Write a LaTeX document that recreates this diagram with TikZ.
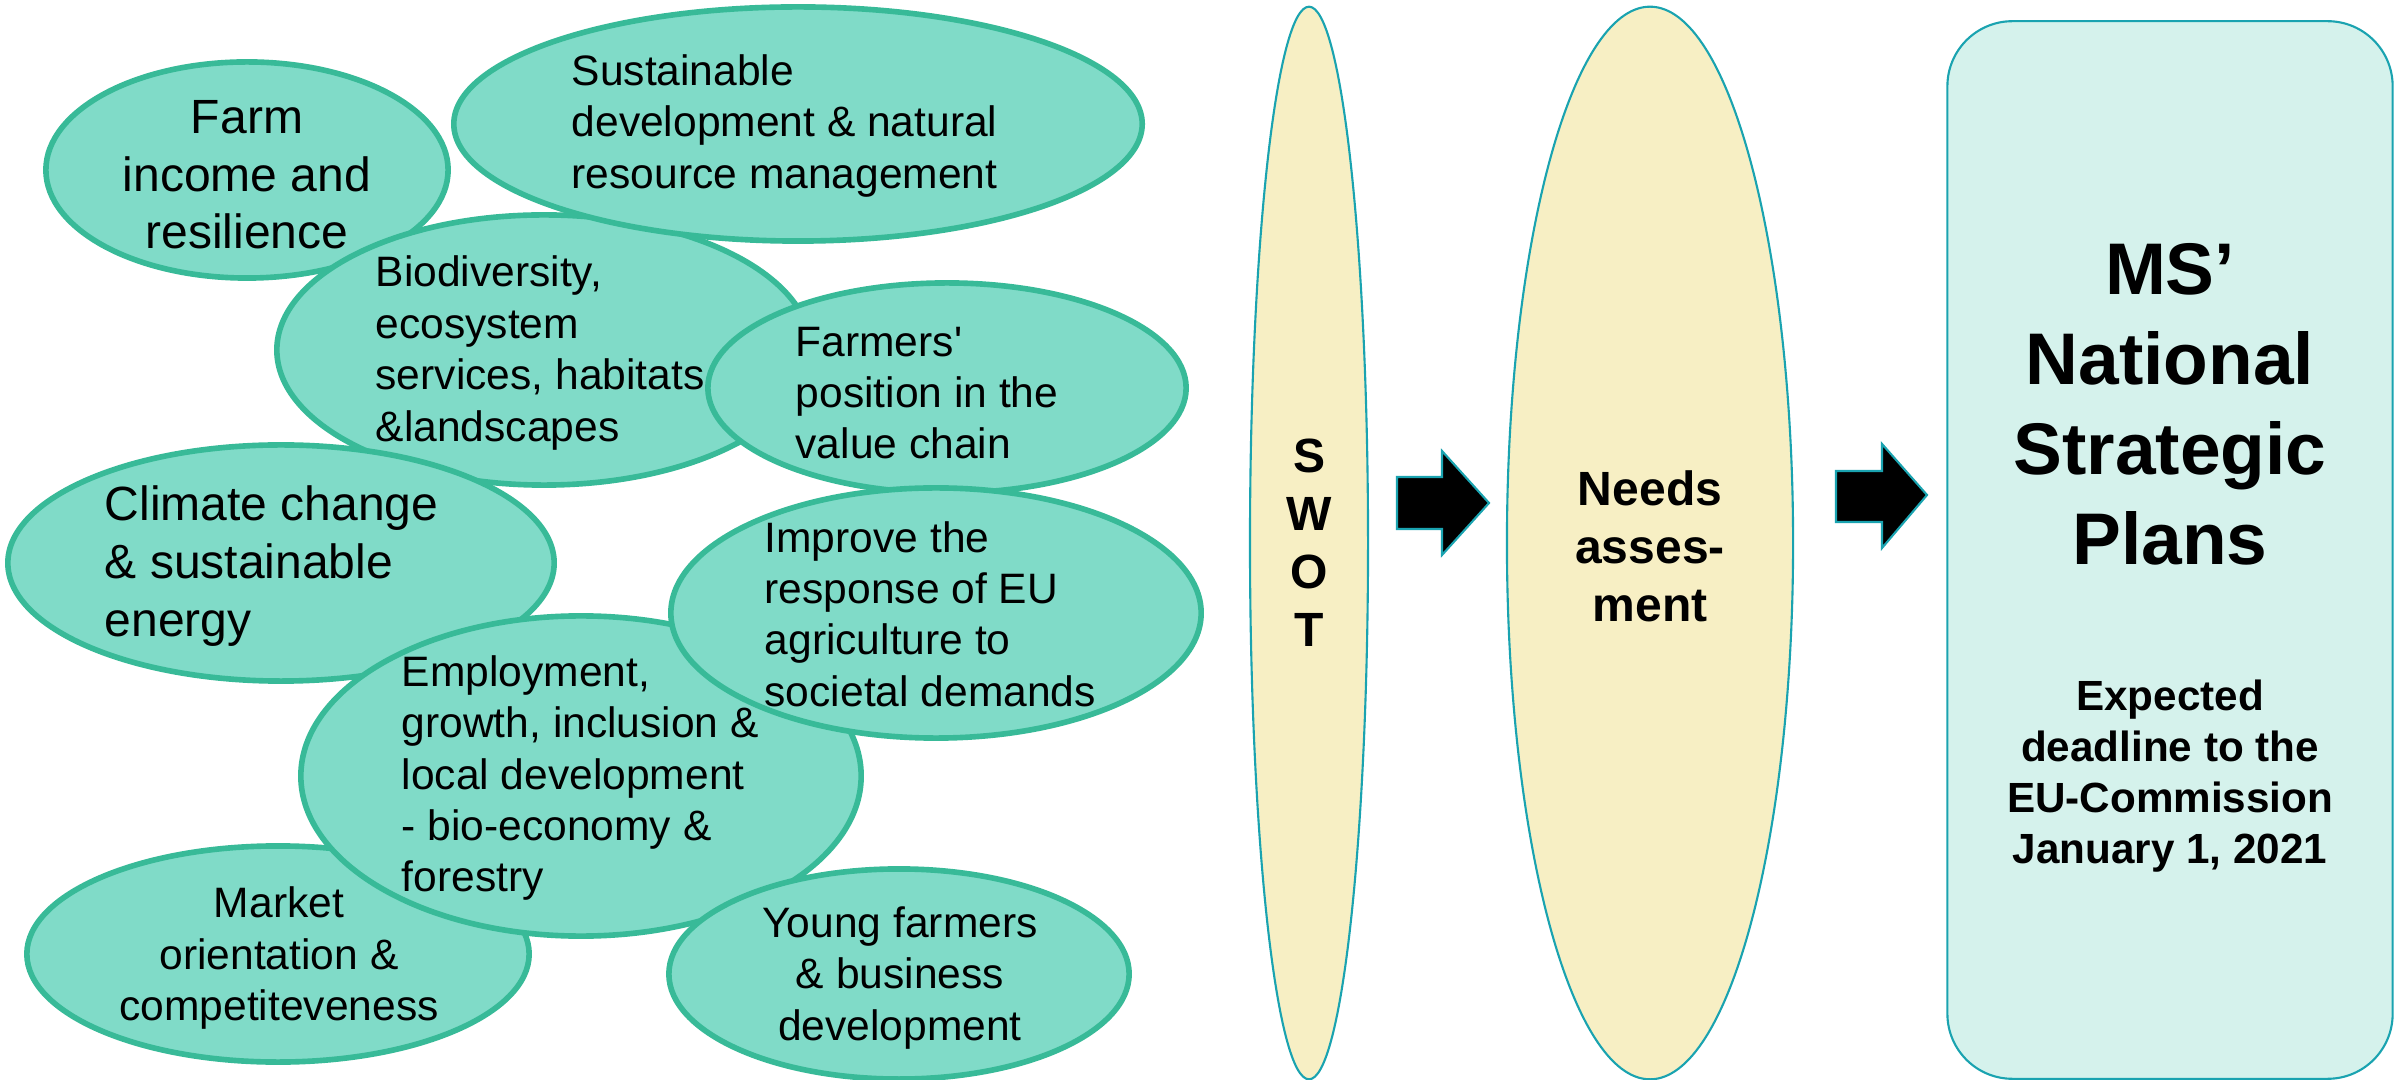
\documentclass[tikz,border=0pt]{standalone}
\usepackage{fontspec}
\setmainfont{Liberation Sans}
\newfontfamily\plainarial{Liberation Sans}
\usetikzlibrary{shapes.geometric}
\definecolor{gfill}{RGB}{128,219,200}
\definecolor{gborder}{RGB}{56,186,152}
\definecolor{yfill}{RGB}{247,239,196}
\definecolor{thinborder}{RGB}{26,163,176}
\definecolor{boxfill}{RGB}{213,242,236}
\begin{document}
\begin{tikzpicture}[x=0.01cm,y=-0.01cm,
  goal/.style={ellipse, draw=gborder, fill=gfill, line width=1.6pt, inner sep=0pt},
  gsmall/.style={font=\fontsize{12.1}{14.6}\selectfont, inner sep=0pt, align=left, anchor=west},
  gbig/.style={font=\fontsize{13.66}{16.4}\selectfont, inner sep=0pt, align=left, anchor=west},
  stage/.style={ellipse, draw=thinborder, fill=yfill, line width=0.6pt, inner sep=0pt},
  stagetext/.style={font=\bfseries\fontsize{13.66}{16.5}\selectfont, inner sep=0pt, align=center},
  blockarrow/.style={fill=black, draw=thinborder, line width=0.6pt}]
\useasboundingbox (0,0) rectangle (2407,1080);
% goal ellipses, in layering order
\node[goal, minimum width=4.02cm, minimum height=2.16cm] (farm) at (247,170) {};
\node[goal, minimum width=5.34cm, minimum height=2.70cm] (bio) at (544,350) {};
\node[goal, minimum width=6.88cm, minimum height=2.34cm] (sust) at (798,124) {};
\node[goal, minimum width=4.78cm, minimum height=2.10cm] (farmers) at (947,388) {};
\node[goal, minimum width=5.46cm, minimum height=2.36cm] (climate) at (281,563) {};
\node[goal, minimum width=5.02cm, minimum height=2.16cm] (market) at (278,954) {};
\node[goal, minimum width=5.60cm, minimum height=3.20cm] (employ) at (581,776) {};
\node[goal, minimum width=5.30cm, minimum height=2.50cm] (improve) at (936,613) {};
\node[goal, minimum width=4.60cm, minimum height=2.10cm] (young) at (899,974) {};
% goal texts
\node[gbig, align=center, anchor=center] (farmt) at (247,175) {Farm\\income and\\resilience};
\node[gsmall] (sustt) at (571,126) {Sustainable\\development \& natural\\resource management};
\node[gsmall] (biot) at (375,353) {Biodiversity,\\ecosystem\\services, habitats\\\&landscapes};
\node[gsmall] (farmerst) at (795,393) {{\plainarial Farmers'}\\position in the\\value chain};
\node[gbig] (climatet) at (104,566) {Climate change\\\& sustainable\\energy};
\node[gsmall] (improvet) at (764,614) {Improve the\\response of EU\\agriculture to\\societal demands};
\node[gsmall] (employt) at (401,778) {Employment,\\growth, inclusion \&\\local development\\- bio-economy \&\\forestry};
\node[gsmall, align=center, anchor=center] (markett) at (279,958) {Market\\orientation \&\\competiteveness};
\node[gsmall, align=center, anchor=center] (youngt) at (900,978) {Young farmers\\\& business\\development};
% stages
\node[stage, minimum width=1.18cm, minimum height=10.72cm] (swot) at (1309,543) {};
\node[stagetext] (swott) at (1309,543) {S\\W\\O\\T};
\node[stage, minimum width=2.86cm, minimum height=10.72cm] (needs) at (1650,543) {};
\node[stagetext] (needst) at (1650,546) {Needs\\asses-\\ment};
\node[rectangle, rounded corners=0.65cm, draw=thinborder, fill=boxfill, line width=0.6pt,
      minimum width=4.45cm, minimum height=10.57cm, inner sep=0pt] (plans) at (2170,550) {};
\node[font=\bfseries\fontsize{20.8}{25.6}\selectfont, align=center, inner sep=0pt] (planst) at (2170,404) {MS’\\National\\Strategic\\Plans};
\node[font=\bfseries\fontsize{12}{14.5}\selectfont, align=center, inner sep=0pt] (deadline) at (2170,776) {Expected\\deadline to the\\EU-Commission\\January 1, 2021};
% block arrows
\draw[blockarrow] (1397,477) -- (1442,477) -- (1442,451) -- (1489,503) -- (1442,555) -- (1442,529) -- (1397,529) -- cycle;
\draw[blockarrow] (1836,471) -- (1882,471) -- (1882,444) -- (1927,495) -- (1882,548) -- (1882,522) -- (1836,522) -- cycle;
\end{tikzpicture}
\end{document}
